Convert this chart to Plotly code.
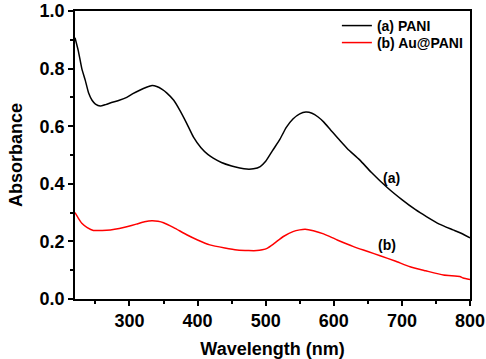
import plotly.graph_objects as go

# Curve (a) PANI
wl_a = [220, 225, 230, 235, 240, 245, 250, 257, 265, 275, 285, 296, 305, 315, 325, 333,
        340, 348, 355, 365, 374, 384, 394, 405, 415, 423, 435, 450, 462, 472, 482, 492,
        500, 510, 521, 530, 540, 550, 559, 568, 577, 585, 595, 609, 620, 638, 655, 678,
        700, 720, 736, 755, 775, 790, 800]
abs_a = [0.907, 0.860, 0.800, 0.760, 0.715, 0.690, 0.677, 0.670, 0.675, 0.683, 0.690, 0.700,
         0.713, 0.725, 0.735, 0.741, 0.738, 0.728, 0.715, 0.690, 0.655, 0.610, 0.562, 0.525,
         0.502, 0.489, 0.474, 0.462, 0.455, 0.451, 0.452, 0.460, 0.478, 0.515, 0.555, 0.595,
         0.625, 0.643, 0.649, 0.645, 0.632, 0.615, 0.588, 0.550, 0.522, 0.483, 0.440, 0.388,
         0.345, 0.310, 0.286, 0.260, 0.240, 0.225, 0.212]

# Curve (b) Au@PANI
wl_b = [220, 225, 230, 238, 247, 260, 272, 285, 296, 310, 322, 333, 342, 350, 365, 384,
        400, 418, 440, 458, 475, 487, 495, 502, 512, 526, 540, 550, 558, 570, 585, 605,
        629, 650, 668, 690, 712, 735, 761, 785, 790, 800]
abs_b = [0.300, 0.280, 0.263, 0.248, 0.238, 0.238, 0.240, 0.245, 0.251, 0.260, 0.268, 0.272,
         0.270, 0.265, 0.248, 0.223, 0.205, 0.188, 0.177, 0.170, 0.168, 0.168, 0.171, 0.176,
         0.192, 0.217, 0.234, 0.240, 0.242, 0.237, 0.226, 0.205, 0.182, 0.165, 0.150, 0.132,
         0.112, 0.098, 0.083, 0.078, 0.073, 0.068]

series_names = ["(a) PANI", "(b) Au@PANI"]
x_ticks = [300, 400, 500, 600, 700, 800]
y_ticks = [0.0, 0.2, 0.4, 0.6, 0.8, 1.0]

FONT = "Liberation Sans, Arial, sans-serif"

fig = go.Figure()
fig.add_trace(go.Scatter(x=wl_a, y=abs_a, mode="lines", name=series_names[0], legend="legend",
                         line=dict(color="black", width=1.5, shape="spline", smoothing=0.5)))
fig.add_trace(go.Scatter(x=wl_b, y=abs_b, mode="lines", name=series_names[1], legend="legend2",
                         line=dict(color="#ff0000", width=1.5, shape="spline", smoothing=0.5)))

fig.add_annotation(x=684, y=0.421, text="(a)", showarrow=False, xanchor="center", yanchor="middle",
                   font=dict(family=FONT, size=14, color="black", weight="bold"))
fig.add_annotation(x=678, y=0.188, text="(b)", showarrow=False, xanchor="center", yanchor="middle",
                   font=dict(family=FONT, size=14, color="black", weight="bold"))

axis_common = dict(showline=True, linecolor="black", linewidth=1.5, mirror=True,
                   ticks="outside", ticklen=5, tickwidth=1.5, tickcolor="black",
                   showgrid=False, zeroline=False, automargin=False,
                   tickfont=dict(family=FONT, size=18, color="black", weight="bold"))

fig.update_xaxes(range=[220, 800], tickvals=x_ticks,
                 minor=dict(dtick=50, tick0=0, ticks="outside", ticklen=3, tickwidth=1.5, tickcolor="black"),
                 title=dict(text="Wavelength (nm)", standoff=14,
                            font=dict(family=FONT, size=18, color="black", weight="bold")),
                 **axis_common)
fig.update_yaxes(range=[0, 1.0], tickvals=y_ticks, tickformat=".1f",
                 minor=dict(dtick=0.1, tick0=0, ticks="outside", ticklen=3, tickwidth=1.5, tickcolor="black"),
                 title=dict(text="Absorbance", standoff=12,
                            font=dict(family=FONT, size=18, color="black", weight="bold")),
                 **axis_common)

legend_common = dict(xanchor="left", yanchor="middle", bgcolor="rgba(0,0,0,0)",
                     font=dict(family=FONT, size=14, color="black", weight="bold"),
                     itemwidth=30)

fig.update_layout(
    width=486, height=359,
    margin=dict(l=75, r=16, t=11, b=60, autoexpand=False),
    paper_bgcolor="white", plot_bgcolor="white",
    showlegend=True,
    legend=dict(x=0.663, y=0.948, **legend_common),
    legend2=dict(x=0.663, y=0.889, **legend_common),
)

fig.write_html("out.html", config={"displayModeBar": False},
               post_script="document.body.style.margin='0';document.body.style.overflow='hidden';")
